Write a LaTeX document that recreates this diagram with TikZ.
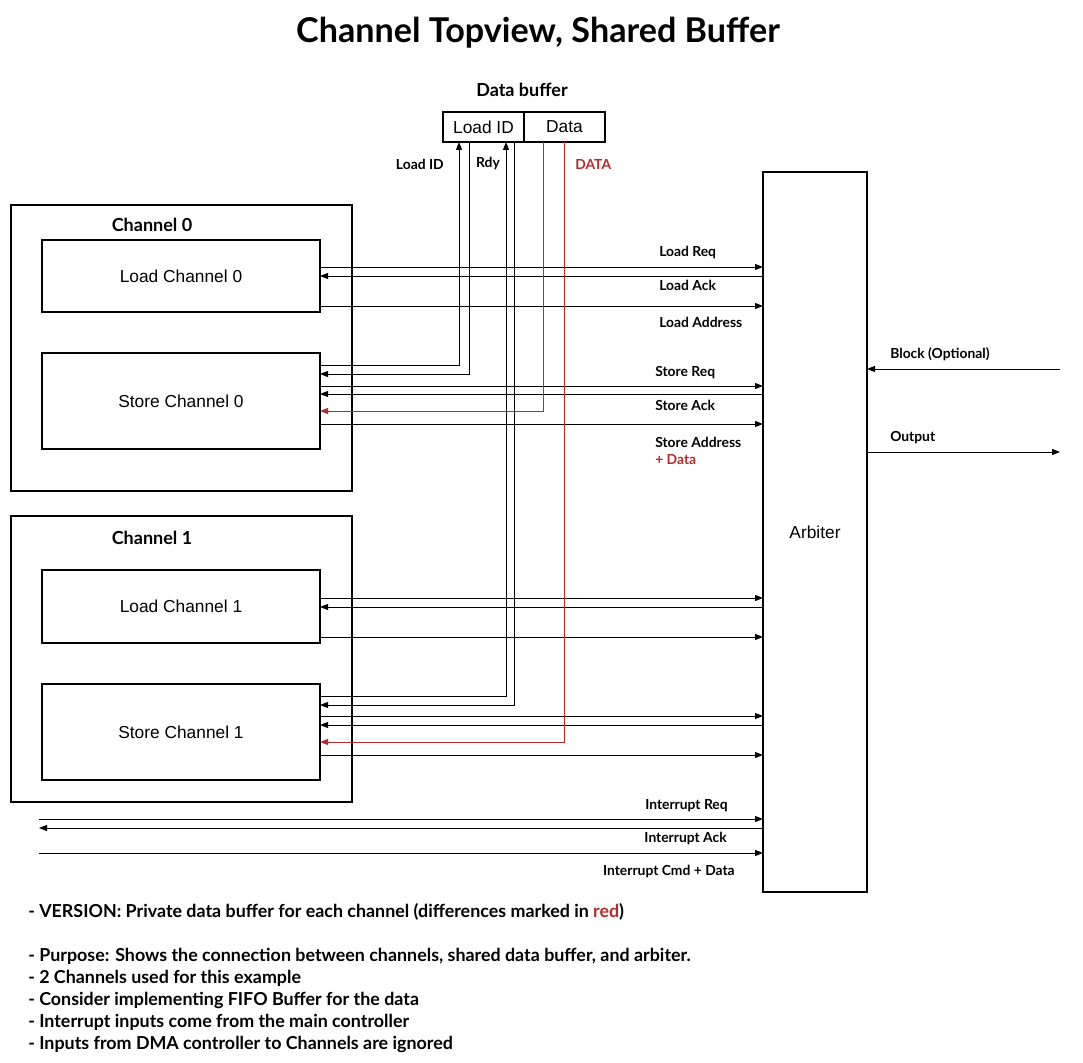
\documentclass[tikz,border=0pt]{standalone}
\usepackage{fontspec}
\setmainfont{Liberation Sans}
\newfontfamily\lblfont{Lato}
\usetikzlibrary{arrows.meta,positioning,calc}
\definecolor{darkred}{RGB}{178,45,45}

\begin{document}
\begin{tikzpicture}[
  x=0.75pt, y=-0.75pt,
  >={Triangle[length=6pt,width=4.5pt]},
  block/.style={rectangle, draw=black, line width=0.8pt, inner sep=0pt, outer sep=0pt, font=\fontsize{13}{15}\selectfont},
  chanbox/.style={block, minimum width=255.75pt, minimum height=214.5pt},
  subbox/.style={block, minimum width=208.5pt},
  bufbox/.style={block, minimum width=60.75pt, minimum height=22.5pt},
  wire/.style={draw=black, line width=0.75pt},
  redwire/.style={draw=darkred, line width=0.75pt},
  lbl/.style={font=\lblfont\bfseries\fontsize{10.4}{12}\selectfont, inner sep=0pt},
  chanlbl/.style={font=\lblfont\bfseries\fontsize{13.5}{15}\selectfont, inner sep=0pt}
]
\useasboundingbox (0,0) rectangle (1083,1063);

\node[font=\lblfont\bfseries\fontsize{25.6}{30}\selectfont] (title) at (538,33) {Channel Topview, Shared Buffer};

\node[chanbox] (ch0) at (181.5,348) {};
\node[chanbox] (ch1) at (181.5,659) {};
\node[chanlbl] (ch0lbl) at (152,225) {Channel 0};
\node[chanlbl] (ch1lbl) at (152,538) {Channel 1};

\node[subbox, minimum height=54pt] (lc0) at (181,276) {Load Channel 0};
\node[subbox, minimum height=72pt] (sc0) at (181,401) {Store Channel 0};
\node[subbox, minimum height=54.75pt] (lc1) at (181,606.5) {Load Channel 1};
\node[subbox, minimum height=72pt] (sc1) at (181,732) {Store Channel 1};

\node[block, minimum width=78pt, minimum height=540pt] (arb) at (815,532) {Arbiter};

\node[chanlbl] (buflbl) at (522,90) {Data buffer};
\node[bufbox] (lid) at (483.5,127) {Load ID};
\node[bufbox] (dat) at (564.5,127) {Data};

\coordinate (v1) at (459,0);
\coordinate (v2) at (469,0);
\coordinate (v3) at (506,0);
\coordinate (v4) at (514,0);
\coordinate (v5) at (543,0);
\coordinate (v6) at (564,0);

\node[lbl, anchor=east] (lidlbl) at (444,164) {Load ID};
\node[lbl] (rdylbl) at (488,164) {Rdy};
\node[lbl, anchor=west, text=darkred] (datlbl) at (575,164) {DATA};

% channel 0
\draw[wire,->] (lc0.east |- 0,267) -- (arb.west |- 0,267);
\draw[wire,->] (arb.west |- 0,276) -- (lc0.east |- 0,276);
\draw[wire,->] (lc0.east |- 0,306) -- (arb.west |- 0,306);
\draw[wire,->] (sc0.east |- 0,365) -| (lid.south -| v1);
\draw[wire,->] (lid.south -| v2) |- (sc0.east |- 0,374);
\draw[wire,->] (sc0.east |- 0,386) -- (arb.west |- 0,386);
\draw[wire,->] (arb.west |- 0,394) -- (sc0.east |- 0,394);
\draw[redwire,->] (dat.south -| v5) |- (sc0.east |- 0,411);
\draw[wire,->] (sc0.east |- 0,424) -- (arb.west |- 0,424);

% channel 1
\draw[wire,->] (lc1.east |- 0,598) -- (arb.west |- 0,598);
\draw[wire,->] (arb.west |- 0,607) -- (lc1.east |- 0,607);
\draw[wire,->] (lc1.east |- 0,637) -- (arb.west |- 0,637);
\draw[wire,->] (sc1.east |- 0,696) -| (lid.south -| v3);
\draw[wire,->] (lid.south -| v4) |- (sc1.east |- 0,705);
\draw[wire,->] (sc1.east |- 0,716) -- (arb.west |- 0,716);
\draw[wire,->] (arb.west |- 0,725) -- (sc1.east |- 0,725);
\draw[redwire,->] (dat.south -| v6) |- (sc1.east |- 0,742);
\draw[wire,->] (sc1.east |- 0,755) -- (arb.west |- 0,755);

\node[lbl, anchor=west] (lreq) at (659,252.5) {Load Req};
\node[lbl, anchor=west] (lack) at (659,285.5) {Load Ack};
\node[lbl, anchor=west] (ladr) at (659,322.5) {Load Address};
\node[lbl, anchor=west] (sreq) at (655,372.5) {Store Req};
\node[lbl, anchor=west] (sack) at (655,405.5) {Store Ack};
\node[lbl, anchor=west] (sadr) at (655,442.5) {Store Address};
\node[lbl, anchor=west, text=darkred] (sdat) at (655,459.5) {+ Data};

% interrupts
\coordinate (ireq) at (39,819);
\coordinate (iack) at (39,828);
\coordinate (icmd) at (39,853);
\draw[wire,->] (ireq) -- (arb.west |- ireq);
\draw[wire,->] (arb.west |- iack) -- (iack);
\draw[wire,->] (icmd) -- (arb.west |- icmd);
\node[lbl, anchor=east] (ireqlbl) at (728,805.5) {Interrupt Req};
\node[lbl, anchor=east] (iacklbl) at (727,838.5) {Interrupt Ack};
\node[lbl, anchor=east] (icmdlbl) at (735,871.5) {Interrupt Cmd + Data};

% arbiter right side
\coordinate (blk) at (1060,369);
\coordinate (out) at (1060,452);
\draw[wire,->] (blk) -- (arb.east |- blk);
\draw[wire,->] (arb.east |- out) -- (out);
\node[lbl, anchor=west] (blklbl) at (890,354.5) {Block (Optional)};
\node[lbl, anchor=west] (outlbl) at (890,437.5) {Output};

\node[font=\lblfont\bfseries\fontsize{13.4}{16.5}\selectfont, anchor=north west, align=left, inner sep=0pt] (notes) at (28,903)
  {- VERSION: Private data buffer for each channel (differences marked in \textcolor{darkred}{red})\\[16.5pt]
   - Purpose: Shows the connection between channels, shared data buffer, and arbiter.\\
   - 2 Channels used for this example\\
   - Consider implementing FIFO Buffer for the data\\
   - Interrupt inputs come from the main controller\\
   - Inputs from DMA controller to Channels are ignored};
\end{tikzpicture}
\end{document}
